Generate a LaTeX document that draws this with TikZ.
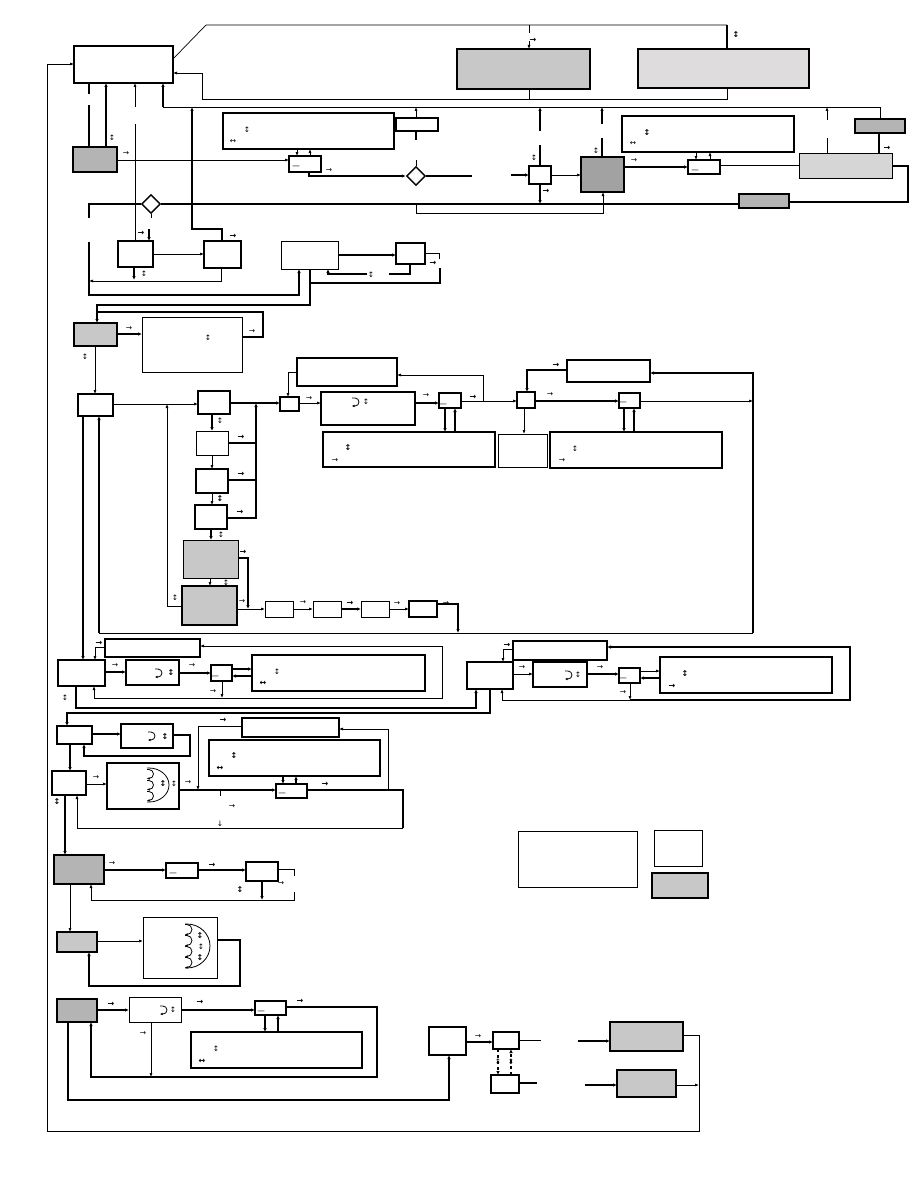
\documentclass[tikz,border=0pt]{standalone}
\usepackage{fontspec}
\newfontfamily\dejavu{DejaVu Sans}
\usetikzlibrary{arrows.meta,shapes.geometric}
\definecolor{grayA}{HTML}{C8C8C8}
\definecolor{grayB}{HTML}{B4B4B4}
\definecolor{grayC}{HTML}{DEDCDC}
\definecolor{grayD}{HTML}{D6D6D6}
\tikzset{
 box/.style={draw,line width=1.5pt,fill=white,anchor=north west,inner sep=0,outer sep=0},
 tbox/.style={box,line width=0.8pt},
 sz/.style n args={2}{minimum width=#1pt,minimum height=#2pt},
 dia/.style={diamond,draw,line width=1.4pt,fill=white,minimum size=19pt,inner sep=0},
 ln/.style={line width=0.7pt},
 tk/.style={line width=1.6pt},
 arr/.style={ln,-{Latex[length=4pt,width=3pt]}},
 tarr/.style={tk,-{Latex[length=4pt,width=3.5pt]}},
 gl/.style={inner sep=0,font=\dejavu\fontsize{7.5}{7.5}\selectfont},
 glb/.style={inner sep=0,font=\dejavu\bfseries\fontsize{8}{8}\selectfont},
 tip/.style={line width=0.8pt,-{Latex[length=2.5pt,width=2.5pt]}}
}
\begin{document}
\begin{tikzpicture}[x=1pt,y=-1pt]
\useasboundingbox (0,0) rectangle (918,1188);
% top rows
\node[box,sz={99}{37}] (A) at (74,46) {};
\node[box,fill=grayA,sz={133}{40}] (B) at (457,49) {};
\node[box,fill=grayC,sz={171}{39}] (C) at (638,49) {};
\node[box,fill=grayB,sz={50}{14}] (D) at (855,119) {};
\node[box,sz={42}{13}] (E) at (396,118) {};
\node[box,sz={171}{36}] (L) at (223,113) {};
\node[box,sz={32}{16}] (M) at (289,156) {};
\node[box,fill=grayB,sz={44}{25}] (I) at (73,147) {};
\node[dia] (d1) at (416,176) {};
\node[dia] (d2) at (151,204) {};
\node[box,sz={22}{18}] (F) at (529,166) {};
\node[box,fill=grayB!90!black,sz={43}{35}] (G) at (581,157) {};
\node[box,sz={172}{36}] (O) at (622,116) {};
\node[box,sz={32}{14}] (N) at (688,160) {};
\node[tbox,fill=grayD,sz={93}{25}] (H) at (799,153) {};
\node[box,fill=grayB,sz={50}{14}] (P) at (739,194) {};
\node[box,sz={35}{26}] (J) at (118,241) {};
\node[box,sz={37}{27}] (K) at (204,241) {};
\node[tbox,sz={57}{28}] (Q) at (281,241) {};
\node[box,sz={29}{21}] (T) at (396,243) {};
% second block
\node[box,fill=grayA,sz={43}{23}] (S) at (74,323) {};
\node[tbox,sz={100}{55}] (U) at (142,317) {};
\node[box,sz={35}{22}] (V) at (78,394) {};
\node[box,sz={32}{23}] (W) at (198,391) {};
\node[tbox,sz={32}{24}] (W2) at (196,431) {};
\node[box,sz={32}{24}] (W3) at (196,469) {};
\node[box,sz={32}{24}] (W4) at (195,505) {};
\node[tbox,fill=grayA,sz={55}{38}] (Y1) at (183,540) {};
\node[box,fill=grayA,sz={55}{39}] (Y2) at (182,586) {};
\node[tbox,sz={28}{16}] (Za) at (265,601) {};
\node[tbox,sz={28}{16}] (Zb) at (313,601) {};
\node[tbox,sz={28}{16}] (Zc) at (361,601) {};
\node[box,sz={28}{16}] (Zd) at (409,601) {};
\node[box,sz={19}{14}] (X) at (280,397) {};
\node[box,sz={94}{33}] (XA) at (321,392) {};
\node[box,sz={22}{15}] (XB) at (439,393) {};
\node[box,sz={100}{28}] (XC) at (297,358) {};
\node[box,sz={172}{35}] (XD) at (323,432) {};
\node[box,sz={18}{16}] (XE) at (517,392) {};
\node[tbox,sz={49}{33}] (XF) at (498,434) {};
\node[box,sz={21}{15}] (XG) at (619,393) {};
\node[box,sz={83}{22}] (AA) at (567,360) {};
\node[box,sz={172}{36}] (XH) at (550,432) {};
% third block
\node[box,sz={95}{18}] (BB) at (105,639) {};
\node[box,sz={47}{26}] (BA) at (58,660) {};
\node[box,sz={53}{25}] (BC) at (126,660) {};
\node[box,sz={21}{16}] (BD) at (211,665) {};
\node[box,sz={173}{36}] (BE) at (252,655) {};
\node[box,sz={46}{27}] (CA) at (467,662) {};
\node[box,sz={94}{19}] (CB) at (513,641) {};
\node[box,sz={54}{25}] (CC) at (533,662) {};
\node[box,sz={21}{15}] (CD) at (619,668) {};
\node[box,sz={172}{36}] (CE) at (660,657) {};
% fourth block
\node[box,sz={35}{18}] (DA) at (57,726) {};
\node[box,sz={52}{24}] (DB) at (121,724) {};
\node[box,sz={34}{24}] (DC) at (52,771) {};
\node[box,sz={72}{46}] (DD) at (107,763) {};
\node[box,sz={97}{19}] (DF) at (242,718) {};
\node[box,sz={171}{36}] (DG) at (209,740) {};
\node[box,sz={31}{14}] (DE) at (276,784) {};
% fifth block
\node[box,fill=grayB,sz={50}{29}] (EA) at (54,855) {};
\node[box,sz={32}{15}] (EB) at (166,863) {};
\node[box,sz={32}{19}] (EC) at (246,862) {};
\node[box,fill=grayA,sz={40}{20}] (ED) at (57,932) {};
\node[tbox,sz={74}{61}] (EE) at (143,917) {};
\node[box,fill=grayB,sz={40}{23}] (FA) at (57,999) {};
\node[tbox,sz={52}{25}] (FB) at (129,997) {};
\node[box,sz={31}{14}] (FC) at (255,1001) {};
\node[box,sz={171}{36}] (FD) at (191,1032) {};
% bottom right and key
\node[box,sz={37}{28}] (GA) at (429,1027) {};
\node[box,sz={26}{17}] (GB) at (493,1032) {};
\node[box,sz={28}{18}] (GC) at (491,1075) {};
\node[box,fill=grayA,sz={73}{29}] (Z1) at (610,1022) {};
\node[box,fill=grayA,sz={59}{27}] (Z2) at (617,1070) {};
\node[tbox,sz={119}{56}] (LA) at (518,831) {};
\node[tbox,sz={48}{36}] (LB) at (654,830) {};
\node[box,fill=grayA,sz={56}{25}] (LC) at (652,873) {};

\draw[ln] (A.east |- 0,59) -- (206,25) -- (727,25);
\draw[tk] (727,25) -- (C.north -| 727,0);
\draw[ln] (529,25) -- (529,33);
\draw[arr] (529,41) -- (B.north -| 529,0);
\draw[ln] (B.south -| 529,0) -- (529,99);
\draw[arr] (C.south -| 727,0) -- (727,99) -- (202,99) -- (202,73) -- (A.east |- 0,73);
\draw[ln] (163,107) -- (880,107) -- (D.north -| 880,0);
\draw[tarr] (163,107) -- (A.south -| 163,0);
\draw[arr] (E.north -| 416,0) -- (416,107);
\draw[tk] (E.south -| 416,0) -- (416,140);
\draw[ln] (416,160) -- (d1.north);
\draw[tarr] (540,131) -- (540,107);
\draw[tk] (540,145) -- (F.north -| 540,0);
\draw[tarr] (602,124) -- (602,107);
\draw[tk] (602,138) -- (G.north -| 602,0);
\draw[arr] (827,120) -- (827,107);
\draw[ln] (827,138) -- (H.north -| 827,0);
\draw[tk] (A.south -| 89,0) -- (89,94);
\draw[tk] (89,105) -- (I.north -| 89,0);
\draw[tarr] (I.north -| 106,0) -- (A.south -| 106,0);
\draw[arr] (135,107) -- (A.south -| 135,0);
\draw[ln] (135,124) -- (J.north -| 135,0);
\draw[tarr] (K.north -| 222,0) -- (222,229) -- (192,229) -- (192,107);
\draw[arr] (I.east |- 0,160) -- (M.west |- 0,160);
\draw[arr] (L.south -| 297,0) -- (M.north -| 297,0);
\draw[arr] (M.north -| 310,0) -- (L.south -| 310,0);
\draw[tarr] (M.south -| 309,0) -- (309,176) -- (d1.west);
\draw[tk] (d1.east) -- (472,176);
\draw[tarr] (511,175) -- (F.west |- 0,175);
\draw[arr] (F.east |- 0,175) -- (G.west |- 0,175);
\draw[tarr] (F.south -| 540,0) -- (540,204);
\draw[tarr] (G.east |- 0,167) -- (N.west |- 0,167);
\draw[arr] (O.south -| 696,0) -- (N.north -| 696,0);
\draw[arr] (N.north -| 710,0) -- (O.south -| 710,0);
\draw[ln] (N.east |- 0,165) -- (H.west |- 0,165);
\draw[tk] (D.south -| 879,0) -- (H.north -| 879,0);
\draw[tk] (H.east |- 0,166) -- (908,166) -- (908,202) -- (P.east |- 0,202);
\draw[tk] (P.west |- 0,204) -- (d2.east);
\draw[tk] (d2.west) -- (89,204) -- (89,218);
\draw[ln] (d2.south) -- (151,218);
\draw[tarr] (89,242) -- (89,295) -- (299,295) -- (Q.south -| 299,0);
\draw[arr] (416,204) -- (416,213) -- (603,213) -- (G.south -| 603,0);
\draw[tarr] (149,229) -- (J.north -| 149,0);
\draw[arr] (J.east |- 0,254) -- (K.west |- 0,254);
\draw[tarr] (J.south -| 134,0) -- (134,280);
\draw[arr] (K.south -| 221,0) -- (221,281) -- (89,281);
\draw[tarr] (Q.east |- 0,255) -- (T.west |- 0,255);
\draw[tk] (T.south -| 410,0) -- (410,274) -- (389,274);
\draw[tarr] (367,274) -- (328,274) -- (Q.south -| 328,0);
\draw[ln] (T.east |- 0,253) -- (439,253) -- (439,259);
\draw[tk] (440,268) -- (440,283) -- (310,283);
\draw[tarr] (Q.south -| 310,0) -- (310,305) -- (97,305) -- (S.north -| 97,0);
\draw[tk] (U.east |- 0,337) -- (263,337) -- (263,312) -- (97,312);
\draw[arr] (Z1.east |- 0,1035) -- (699,1035) -- (699,1131) -- (47,1131) -- (47,64) -- (A.west |- 0,64);
\draw[arr] (Z2.east |- 0,1085) -- (699,1085);

\draw[tarr] (S.east |- 0,334) -- (U.west |- 0,334);
\draw[arr] (S.south -| 95,0) -- (V.north -| 95,0);
\draw[arr] (V.east |- 0,404) -- (W.west |- 0,404);
\draw[arr] (Y2.west |- 0,606) -- (167,606) -- (167,404);
\draw[tarr] (W.east |- 0,403) -- (X.west |- 0,403);
\draw[tk] (W2.east |- 0,443) -- (256,443);
\draw[tk] (W3.east |- 0,480) -- (256,480);
\draw[tarr] (W4.east |- 0,518) -- (256,518) -- (256,403);
\draw[tarr] (W.south -| 212,0) -- (W2.north -| 212,0);
\draw[arr] (W2.south -| 212,0) -- (W3.north -| 212,0);
\draw[arr] (W3.south -| 212,0) -- (W4.north -| 212,0);
\draw[tarr] (W4.south -| 211,0) -- (Y1.north -| 211,0);
\draw[arr] (Y1.south -| 210,0) -- (Y2.north -| 210,0);
\draw[tarr] (Y1.east |- 0,558) -- (248,558) -- (248,609);
\draw[arr] (Y2.east |- 0,609) -- (Za.west |- 0,609);
\draw[arr] (Za.east |- 0,609) -- (Zb.west |- 0,609);
\draw[tarr] (Zb.east |- 0,609) -- (Zc.west |- 0,609);
\draw[arr] (Zc.east |- 0,609) -- (Zd.west |- 0,609);
\draw[tarr] (Zd.east |- 0,604) -- (458,604) -- (458,633);
\draw[ln] (458,633) -- (99,633);
\draw[tarr] (99,633) -- (V.south -| 99,0);
\draw[ln] (458,633) -- (753,633);
\draw[tarr] (753,633) -- (753,373) -- (AA.east |- 0,373);
\draw[tarr] (V.south -| 83,0) -- (BA.north -| 83,0);
\draw[arr] (X.east |- 0,403) -- (XA.west |- 0,403);
\draw[tarr] (XA.east |- 0,403) -- (XB.west |- 0,403);
\draw[arr] (XB.east |- 0,401) -- (XE.west |- 0,401);
\draw[arr] (483,401) -- (483,375) -- (XC.east |- 0,375);
\draw[arr] (XC.west |- 0,372) -- (288,372) -- (X.north -| 288,0);
\draw[tarr] (XB.south -| 445,0) -- (XD.north -| 445,0);
\draw[tarr] (XD.north -| 455,0) -- (XB.south -| 455,0);
\draw[arr] (XE.south -| 524,0) -- (XF.north -| 524,0);
\draw[tarr] (XE.east |- 0,401) -- (XG.west |- 0,401);
\draw[tarr] (AA.west |- 0,370) -- (527,370) -- (XE.north -| 527,0);
\draw[arr] (XG.east |- 0,401) -- (753,401);
\draw[tarr] (XG.south -| 624,0) -- (XH.north -| 624,0);
\draw[tarr] (XH.north -| 634,0) -- (XG.south -| 634,0);

\draw[arr] (BB.west |- 0,647) -- (95,647) -- (BA.north -| 95,0);
\draw[tarr] (BA.east |- 0,672) -- (BC.west |- 0,672);
\draw[tarr] (BC.east |- 0,673) -- (BD.west |- 0,673);
\draw[tarr] (BD.east |- 0,669) -- (BE.west |- 0,669);
\draw[tarr] (BE.west |- 0,676) -- (BD.east |- 0,676);
\draw[arr] (BD.south -| 222,0) -- (222,698);
\draw[arr] (222,698) -- (94,698) -- (BA.south -| 94,0);
\draw[arr] (222,698) -- (442,698) -- (442,646) -- (BB.east |- 0,646);
\draw[tarr] (BA.south -| 76,0) -- (76,708) -- (476,708) -- (CA.south -| 476,0);
\draw[tarr] (CA.south -| 490,0) -- (490,713) -- (67,713) -- (DA.north -| 67,0);
\draw[arr] (CB.west |- 0,649) -- (503,649) -- (CA.north -| 503,0);
\draw[arr] (CA.east |- 0,674) -- (CC.west |- 0,674);
\draw[tarr] (CC.east |- 0,674) -- (CD.west |- 0,674);
\draw[arr] (CD.east |- 0,671) -- (CE.west |- 0,671);
\draw[tarr] (CE.west |- 0,678) -- (CD.east |- 0,678);
\draw[arr] (CD.south -| 630,0) -- (630,700);
\draw[arr] (630,700) -- (502,700) -- (CA.south -| 502,0);
\draw[tarr] (630,700) -- (850,700) -- (850,647) -- (CB.east |- 0,647);

\draw[tarr] (DA.east |- 0,734) -- (DB.west |- 0,734);
\draw[tarr] (DB.east |- 0,735) -- (190,735) -- (190,756) -- (84,756) -- (DA.south -| 84,0);
\draw[tarr] (DA.south -| 70,0) -- (DC.north -| 70,0);
\draw[arr] (DC.east |- 0,784) -- (DD.west |- 0,784);
\draw[tarr] (DD.east |- 0,790) -- (DE.west |- 0,790);
\draw[arr] (DF.west |- 0,726) -- (198,726) -- (198,790);
\draw[tarr] (DG.south -| 283,0) -- (DE.north -| 283,0);
\draw[tarr] (DE.north -| 296,0) -- (DG.south -| 296,0);
\draw[tk] (DE.east |- 0,790) -- (403,790) -- (403,828);
\draw[arr] (403,828) -- (77,828) -- (DC.south -| 77,0);
\draw[arr] (388,790) -- (388,729) -- (DF.east |- 0,729);
\draw[ln] (220,790) -- (220,796);
\draw[tarr] (DC.south -| 65,0) -- (EA.north -| 65,0);

\draw[tarr] (EA.east |- 0,870) -- (EB.west |- 0,870);
\draw[tarr] (EB.east |- 0,870) -- (EC.west |- 0,870);
\draw[ln] (EC.east |- 0,869) -- (294,869) -- (294,876);
\draw[arr] (294,892) -- (294,900) -- (91,900) -- (EA.south -| 91,0);
\draw[tarr] (EC.south -| 262,0) -- (262,900);
\draw[arr] (EA.south -| 70,0) -- (ED.north -| 70,0);
\draw[arr] (ED.east |- 0,941) -- (EE.west |- 0,941);
\draw[tarr] (EE.east |- 0,940) -- (240,940) -- (240,986) -- (89,986) -- (ED.south -| 89,0);
\draw[tarr] (FA.east |- 0,1010) -- (FB.west |- 0,1010);
\draw[tarr] (FB.east |- 0,1010) -- (FC.west |- 0,1010);
\draw[tarr] (FC.east |- 0,1007) -- (377,1007) -- (377,1077) -- (91,1077) -- (FA.south -| 91,0);
\draw[arr] (FB.south -| 151,0) -- (151,1077);
\draw[tarr] (FC.south -| 265,0) -- (FD.north -| 265,0);
\draw[tarr] (FD.north -| 278,0) -- (FC.south -| 278,0);
\draw[tarr] (FA.south -| 68,0) -- (68,1100) -- (449,1100) -- (GA.south -| 449,0);

\draw[tarr] (GA.east |- 0,1042) -- (GB.west |- 0,1042);
\draw[ln] (GB.east |- 0,1040) -- (541,1040);
\draw[tarr,dashed] (GB.south -| 498,0) -- (GC.north -| 498,0);
\draw[tarr,dashed] (GC.north -| 511,0) -- (GB.south -| 511,0);
\draw[tk] (GC.east |- 0,1083) -- (537,1083);
\draw[tarr] (578,1041) -- (Z1.west |- 0,1041);
\draw[tarr] (585,1085) -- (Z2.west |- 0,1085);

% curled arrows
\foreach \cx/\cy in {355/402,158/673,568/675,151/736,163/1010}
  \draw[tip] (\cx-3,\cy-4) -- (\cx,\cy-4) arc[start angle=-90,end angle=90,radius=4] -- (\cx-3,\cy+4);
\foreach \k in {-11,0,11}
  \draw[tip] (147,785+\k-4.5) -- (149,785+\k-4.5) arc[start angle=-90,end angle=90,radius=4.5] -- (147,785+\k+4.5);
\draw[line width=0.8pt] (147,768) -- (149,768) arc[start angle=-90,end angle=90,x radius=20,y radius=17] -- (147,802);
\foreach \k in {-16.5,-5.5,5.5,16.5}
  \draw[tip] (185,946+\k-5) -- (187,946+\k-5) arc[start angle=-90,end angle=90,radius=5] -- (185,946+\k+5);
\draw[line width=0.8pt] (185,924) -- (187,924) arc[start angle=-90,end angle=90,x radius=23,y radius=22] -- (185,968);

\foreach \p [count=\i] in {{126,154},{329,171},{634,161},{129,329},{252,332},{242,602},{303,603},{397,604},{446,604},{309,399},{426,396},{550,395},{562,461},{335,461},{115,666},{192,666},{213,692},{522,668},{600,668},{623,693},{96,778},{188,783},{232,807},{112,864},{281,884},{143,1034},{478,1037}}
  \node[gl] (ra\i) at (\p) {→};
\foreach \p [count=\i] in {{112,138},{247,130},{144,274},{371,275},{534,158},{596,151},{85,357},{208,338},{220,421},{221,535},{226,583},{175,598},{366,402},{277,672},{65,698},{578,675},{174,784},{201,947},{173,1010},{216,1049},{575,449},{498,1062},{511,1062}}
  \node[gl] (ud\i) at (\p) {↕};
\foreach \p [count=\i] in {{233,142},{633,144}}
  \node[gl] (lr\i) at (\p) {↔};
\foreach \p [count=\i] in {{533,40},{141,233},{233,236},{433,263},{546,191},{887,148},{241,437},{241,474},{240,512},{243,552},{350,603},{473,397},{556,365},{99,643},{507,645},{672,686},{223,720},{325,784},{212,865},{111,1004},{200,1002},{300,1001}}
  \node[glb] (rb\i) at (\p) {→};
\foreach \p [count=\i] in {{736,35},{647,133},{220,499},{348,448},{171,673},{685,674},{165,737},{234,756},{163,784},{57,802},{240,890},{200,936},{200,958}}
  \node[glb] (ub\i) at (\p) {↕};
\foreach \p [count=\i] in {{263,683},{220,768},{202,1061}}
  \node[glb] (lb\i) at (\p) {↔};
\foreach \p [count=\i] in {{296,167},{695,171},{443,405},{623,403},{215,677},{623,679},{282,794},{173,874},{261,1012}}
  \node[gl] (dh\i) at (\p) {—};
\node[gl] (dn1) at (220,824) {↓};
\end{tikzpicture}
\end{document}
